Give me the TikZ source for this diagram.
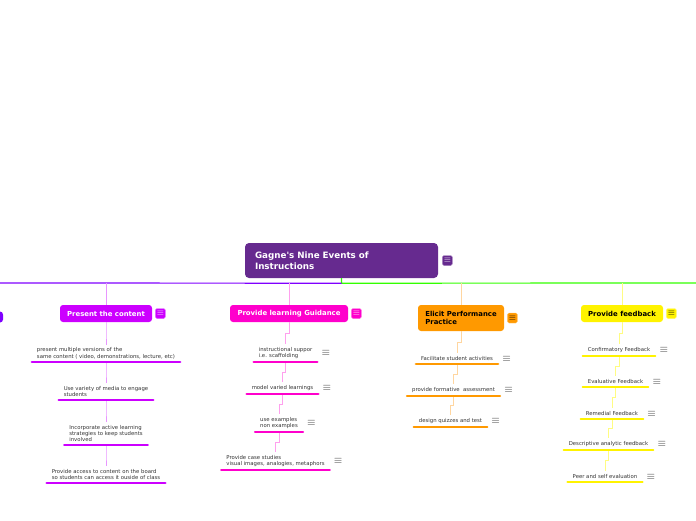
\documentclass[tikz,border=0pt]{standalone}
\usepackage{fontspec}
\setmainfont{DejaVu Sans}
\usetikzlibrary{positioning,calc}

\definecolor{titlepurple}{RGB}{102,42,143}
\definecolor{mainviolet}{RGB}{127,0,255}
\definecolor{maingreen}{RGB}{51,255,0}
\definecolor{c1}{RGB}{204,0,255}
\definecolor{c1light}{RGB}{232,150,255}
\definecolor{c2}{RGB}{255,0,204}
\definecolor{c2light}{RGB}{255,160,238}
\definecolor{c3}{RGB}{255,153,0}
\definecolor{c3light}{RGB}{255,214,160}
\definecolor{c4}{RGB}{255,243,0}
\definecolor{c4light}{RGB}{255,252,130}
\definecolor{txtgray}{RGB}{50,50,50}

\begin{document}
\begin{tikzpicture}[x=1pt, y=-1pt,
  topic/.style={rounded corners=3pt, inner sep=0pt, minimum height=17pt,
                font=\fontsize{6.9}{8.5}\selectfont\bfseries, align=left},
  subitem/.style={anchor=south, align=left, inner xsep=5pt, inner ysep=3pt,
                  text=txtgray, font=\fontsize{5.35}{6.3}\selectfont},
  uline/.style={line width=2.2pt, line cap=round},
  link/.style={line width=0.8pt,
               to path={-- ($(\tikztostart)!0.5!(\tikztostart|-\tikztotarget)$) -| (\tikztotarget)}},
  menu/.style={rounded corners=1.5pt, minimum size=10pt, inner sep=0pt,
               font=\fontsize{9}{9}\selectfont},
  dots/.style={inner sep=0pt, text=black!80, font=\fontsize{10.5}{10.5}\selectfont},
]
  \clip (0,0) rectangle (696,520);

  % central topic
  \node[topic, fill=titlepurple, text=white, minimum width=193pt, minimum height=35pt,
        inner xsep=10pt, text width=173pt, rounded corners=4pt,
        font=\fontsize{8.75}{11}\selectfont\bfseries] (title) at (341.5,260.5)
        {Gagne\textquotesingle s Nine Events of\\Instructions};
  \node[menu, fill=titlepurple, draw=titlepurple!55!white, text=white, right=4pt of title] (titlemenu) {$\equiv$};

  \coordinate (hub) at ($(title.south)+(0,5)$);
  \coordinate (lft) at (0,283);
  \coordinate (rgt) at (696,283);
  \draw[line width=1.2pt, maingreen] (title.south) -- (hub) -- (rgt);
  \draw[line width=1.2pt, mainviolet] (hub) -- (lft);

  % main branches
  \node[topic, fill=mainviolet, minimum width=60pt, minimum height=11pt] (b0) at (-27,317) {};
  \node[topic, fill=c1, text=white, minimum width=92pt] (b1) at (106,313.5) {Present the content};
  \node[topic, fill=c2, text=white, minimum width=118pt] (b2) at (289,313.5) {Provide learning Guidance};
  \node[topic, fill=c3, minimum width=86pt, minimum height=26pt] (b3) at (461,318) {Elicit Performance\\Practice};
  \node[topic, fill=c4, minimum width=82pt] (b4) at (622,313.5) {Provide feedback};

  \node[menu, fill=c1, draw=c1!55!white, text=white, right=3pt of b1] (m1) {$\equiv$};
  \node[menu, fill=c2, draw=c2!55!white, text=white, right=3pt of b2] (m2) {$\equiv$};
  \node[menu, fill=c3, draw=c3!55!white, right=3pt of b3] (m3) {$\equiv$};
  \node[menu, fill=c4, draw=c4!55!white, right=3pt of b4] (m4) {$\equiv$};

  \draw[line width=0.8pt, c1light] (b1.north |- hub) -- (b1.north);
  \draw[line width=0.8pt, c2light] (b2.north |- hub) -- (b2.north);
  \draw[line width=0.8pt, c3light] (b3.north |- hub) -- (b3.north);
  \draw[line width=0.8pt, c4light] (b4.north |- hub) -- (b4.north);

  % present the content
  \node[subitem] (c11) at (106,362) {present multiple versions of the\\same content ( video, demonstrations, lecture, etc)};
  \node[subitem] (c12) at (106,400) {Use variety of media to engage\\students};
  \node[subitem] (c13) at (106,445) {Incorporate active learning\\strategies to keep students\\involved};
  \node[subitem] (c14) at (106,483) {Provide access to content on the board\\so students can access it ouside of class};

  \draw[link, c1light] (b1.south) to (c11.north);
  \draw[link, c1light] (c11.south) to (c12.north);
  \draw[link, c1light] (c12.south) to (c13.north);
  \draw[link, c1light] (c13.south) to (c14.north);
  \foreach \n in {c11,c12,c13,c14}
    \draw[uline, c1] (\n.south west) -- (\n.south east);

  % provide learning guidance
  \node[subitem] (c21) at (285.5,362) {instructional suppor\\i.e. scaffolding};
  \node[subitem] (c22) at (282.5,394) {model varied learnings};
  \node[subitem] (c23) at (279,432) {use examples\\non examples};
  \node[subitem] (c24) at (275.5,470) {Provide case studies\\visual images, analogies, metaphors};

  \draw[link, c2light] (b2.south) to (c21.north);
  \draw[link, c2light] (c21.south) to (c22.north);
  \draw[link, c2light] (c22.south) to (c23.north);
  \draw[link, c2light] (c23.south) to (c24.north);
  \foreach \n in {c21,c22,c23,c24}{
    \draw[uline, c2] (\n.south west) -- (\n.south east);
    \node[dots, right=4pt of \n] (d\n) {$\equiv$};
  }

  % elicit performance
  \node[subitem] (c31) at (457,364) {Facilitate student activities};
  \node[subitem] (c32) at (453.5,396) {provide formative~ assessment};
  \node[subitem] (c33) at (450.5,427) {design quizzes and test};

  \draw[link, c3light] (b3.south) to (c31.north);
  \draw[link, c3light] (c31.south) to (c32.north);
  \draw[link, c3light] (c32.south) to (c33.north);
  \foreach \n in {c31,c32,c33}{
    \draw[uline, c3] (\n.south west) -- (\n.south east);
    \node[dots, right=4pt of \n] (d\n) {$\equiv$};
  }

  % provide feedback
  \node[subitem] (c41) at (619,356) {Confirmatory Feedback};
  \node[subitem] (c42) at (615.5,387) {Evaluative Feedback};
  \node[subitem] (c43) at (612,419) {Remedial Feedback};
  \node[subitem] (c44) at (608.5,450) {Descriptive analytic feedback};
  \node[subitem] (c45) at (605,482) {Peer and self evaluation};

  \draw[link, c4light] (b4.south) to (c41.north);
  \draw[link, c4light] (c41.south) to (c42.north);
  \draw[link, c4light] (c42.south) to (c43.north);
  \draw[link, c4light] (c43.south) to (c44.north);
  \draw[link, c4light] (c44.south) to (c45.north);
  \foreach \n in {c41,c42,c43,c44,c45}{
    \draw[uline, c4] (\n.south west) -- (\n.south east);
    \node[dots, right=4pt of \n] (d\n) {$\equiv$};
  }
\end{tikzpicture}
\end{document}
